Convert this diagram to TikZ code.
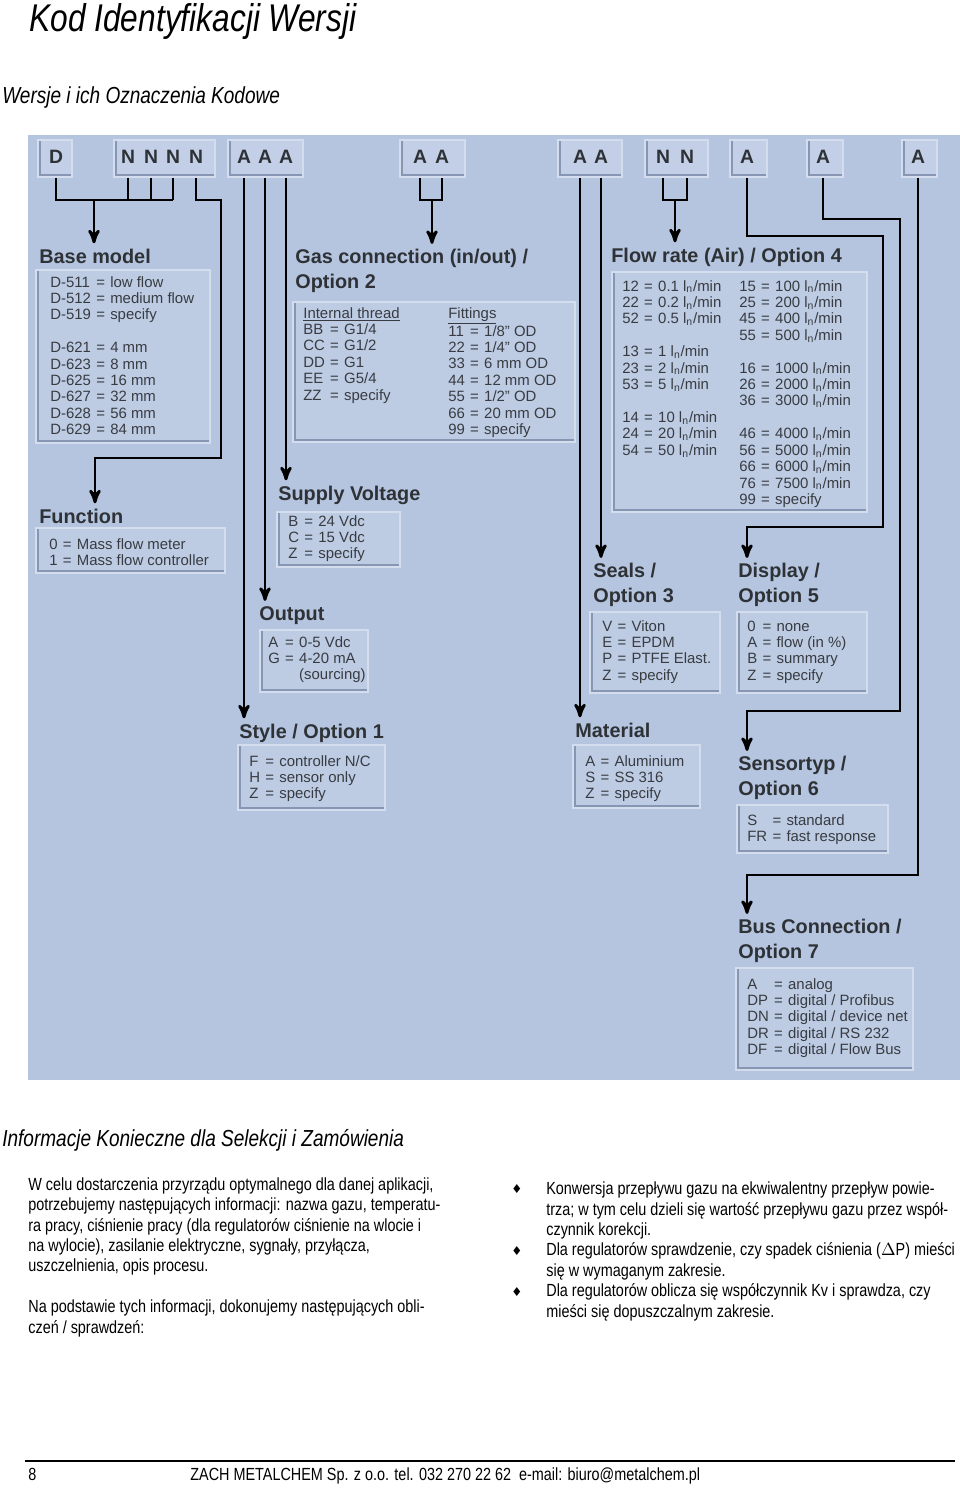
\documentclass[tikz,border=0pt]{standalone}
\usepackage{fontspec}
\usepackage{array}
\setmainfont{Liberation Sans}
\newfontfamily\narrowfont[FakeStretch=0.82]{Liberation Sans}
\newfontfamily\symbfont{DejaVu Sans}
\usetikzlibrary{arrows,fit}
\definecolor{panelblue}{HTML}{B5C5DF}
\definecolor{boxfill}{HTML}{BDCBE3}
\definecolor{hdrfill}{HTML}{C2CFE6}
\definecolor{edgedark}{HTML}{8797B3}
\definecolor{edgelight}{HTML}{D3DDEE}
\definecolor{headgray}{HTML}{2E3236}
\definecolor{itemgray}{HTML}{383C42}
\newcolumntype{E}{@{\hspace{3pt}}c@{\hspace{3pt}}}
\newcommand{\lnmin}{l\textsubscript{n}/min}
\tikzstyle{panel}=[fill=panelblue,inner sep=0pt]
\tikzstyle{hdrbox}=[fill=hdrfill,draw=edgelight,line width=0.6pt,inner sep=0pt,path picture={\draw[edgedark,line width=3pt] (path picture bounding box.north west) -- (path picture bounding box.south west) -- (path picture bounding box.south east);}]
\tikzstyle{optbox}=[fill=boxfill,draw=edgelight,line width=0.6pt,inner sep=0pt,path picture={\draw[edgedark,line width=3pt] (path picture bounding box.north west) -- (path picture bounding box.south west) -- (path picture bounding box.south east);}]
\tikzstyle{code}=[anchor=base,inner sep=0pt,text=headgray,font=\bfseries\fontsize{11}{11}\selectfont]
\tikzstyle{ttl}=[anchor=base west,inner sep=0pt,outer ysep=3pt,align=left,text=headgray,font=\bfseries\fontsize{11.3}{13.9}\selectfont]
\tikzstyle{items}=[anchor=base west,inner sep=0pt,text=itemgray,font=\fontsize{8.5}{9.35}\selectfont]
\tikzstyle{pagehead}=[anchor=base west,inner sep=0pt,font=\narrowfont\itshape\fontsize{13.2}{15}\selectfont]
\tikzstyle{body}=[anchor=base west,inner sep=0pt,align=left,font=\narrowfont\fontsize{10}{11.6}\selectfont]
\tikzstyle{wire}=[draw=black,line width=1.6pt]
\tikzstyle{arr}=[->,>=stealth',draw=black,line width=1.6pt]

\begin{document}
\begin{tikzpicture}[x=0.02cm,y=-0.02cm]
  \useasboundingbox (0,0) rectangle (960,1488);
  % page headings
  \node[pagehead,font=\narrowfont\itshape\fontsize{22}{24}\selectfont] (title) at (29,31) {Kod Identyfikacji Wersji};
  \node[pagehead] (versions) at (2,103) {Wersje i ich Oznaczenia Kodowe};

  % blue panel
  \node[panel,fit={(28,135) (960,1080)}] (panel) {};

  % code boxes along the top
  \node[hdrbox,fit={(38,140) (72,177)}] (hD) {};
  \node[hdrbox,fit={(114,140) (215,177)}] (hN) {};
  \node[hdrbox,fit={(228,140) (303,177)}] (hA) {};
  \node[hdrbox,fit={(400,140) (465,177)}] (hG) {};
  \node[hdrbox,fit={(558,140) (622,177)}] (hS) {};
  \node[hdrbox,fit={(645,140) (708,177)}] (hF) {};
  \node[hdrbox,fit={(730,140) (767,177)}] (hDisp) {};
  \node[hdrbox,fit={(807,140) (843,177)}] (hSens) {};
  \node[hdrbox,fit={(902,140) (937,177)}] (hBus) {};
  \node[code] (d1) at (56,163) {D};
  \node[code] (n1) at (128,163) {N};
  \node[code] (n2) at (151,163) {N};
  \node[code] (n3) at (173,163) {N};
  \node[code] (n4) at (196,163) {N};
  \node[code] (a1) at (244,163) {A};
  \node[code] (a2) at (265,163) {A};
  \node[code] (a3) at (286,163) {A};
  \node[code] (g1) at (420,163) {A};
  \node[code] (g2) at (442,163) {A};
  \node[code] (s1) at (580,163) {A};
  \node[code] (s2) at (601,163) {A};
  \node[code] (f1) at (663,163) {N};
  \node[code] (f2) at (687,163) {N};
  \node[code] (o4) at (747,163) {A};
  \node[code] (o6) at (823,163) {A};
  \node[code] (o7) at (918,163) {A};

  % base model
  \node[ttl] (base) at (39,263) {Base model};
  \node[optbox,fit={(36,270) (210,443)}] (basebox) {};
  \node[items] (basetxt) at (50,287) {\begin{tabular}[t]{@{}lEl@{}}
    D-511 & = & low flow\\ D-512 & = & medium flow\\ D-519 & = & specify\\ & & \\
    D-621 & = & 4 mm\\ D-623 & = & 8 mm\\ D-625 & = & 16 mm\\
    D-627 & = & 32 mm\\ D-628 & = & 56 mm\\ D-629 & = & 84 mm\end{tabular}};

  % function
  \node[ttl] (func) at (39,523) {Function};
  \node[optbox,fit={(36,528) (225,573)}] (funcbox) {};
  \node[items] (functxt) at (49,549) {\begin{tabular}[t]{@{}lEl@{}}
    0 & = & Mass flow meter\\ 1 & = & Mass flow controller\end{tabular}};

  % gas connection
  \node[ttl] (gas) at (295,288) {Gas connection (in/out) /\\Option 2};
  \node[optbox,fit={(293,302) (575,442)}] (gasbox) {};
  \node[items] (gastxt) at (303,318) {\begin{tabular}[t]{@{}lEl@{}}
    \multicolumn{3}{@{}l}{\underline{Internal thread}}\\
    BB & = & G1/4\\ CC & = & G1/2\\ DD & = & G1\\ EE & = & G5/4\\ ZZ & = & specify\end{tabular}};
  \node[items] (fittxt) at (448,318) {\begin{tabular}[t]{@{}lEl@{}}
    \multicolumn{3}{@{}l}{\underline{Fittings}}\\
    11 & = & 1/8" OD\\ 22 & = & 1/4" OD\\ 33 & = & 6 mm OD\\ 44 & = & 12 mm OD\\
    55 & = & 1/2" OD\\ 66 & = & 20 mm OD\\ 99 & = & specify\end{tabular}};

  % supply voltage
  \node[ttl] (supply) at (278,500) {Supply Voltage};
  \node[optbox,fit={(277,512) (400,567)}] (supplybox) {};
  \node[items] (supplytxt) at (288,526) {\begin{tabular}[t]{@{}lEl@{}}
    B & = & 24 Vdc\\ C & = & 15 Vdc\\ Z & = & specify\end{tabular}};

  % output
  \node[ttl] (output) at (259,620) {Output};
  \node[optbox,fit={(260,630) (368,692)}] (outputbox) {};
  \node[items] (outputtxt) at (268,647) {\begin{tabular}[t]{@{}lEl@{}}
    A & = & 0-5 Vdc\\ G & = & 4-20 mA\\ & & (sourcing)\end{tabular}};

  % style
  \node[ttl] (style) at (239,738) {Style / Option 1};
  \node[optbox,fit={(238,745) (385,810)}] (stylebox) {};
  \node[items] (styletxt) at (249,766) {\begin{tabular}[t]{@{}lEl@{}}
    F & = & controller N/C\\ H & = & sensor only\\ Z & = & specify\end{tabular}};

  % flow rate
  \node[ttl] (flow) at (611,262) {Flow rate (Air) / Option 4};
  \node[optbox,fit={(612,272) (867,512)}] (flowbox) {};
  \node[items] (flowtxt1) at (622,291) {\begin{tabular}[t]{@{}lEl@{}}
    12 & = & 0.1 \lnmin\\ 22 & = & 0.2 \lnmin\\ 52 & = & 0.5 \lnmin\\ & & \\
    13 & = & 1 \lnmin\\ 23 & = & 2 \lnmin\\ 53 & = & 5 \lnmin\\ & & \\
    14 & = & 10 \lnmin\\ 24 & = & 20 \lnmin\\ 54 & = & 50 \lnmin\end{tabular}};
  \node[items] (flowtxt2) at (739,291) {\begin{tabular}[t]{@{}lEl@{}}
    15 & = & 100 \lnmin\\ 25 & = & 200 \lnmin\\ 45 & = & 400 \lnmin\\ 55 & = & 500 \lnmin\\ & & \\
    16 & = & 1000 \lnmin\\ 26 & = & 2000 \lnmin\\ 36 & = & 3000 \lnmin\\ & & \\
    46 & = & 4000 \lnmin\\ 56 & = & 5000 \lnmin\\ 66 & = & 6000 \lnmin\\
    76 & = & 7500 \lnmin\\ 99 & = & specify\end{tabular}};

  % seals
  \node[ttl] (seals) at (593,602) {Seals /\\Option 3};
  \node[optbox,fit={(590,612) (720,693)}] (sealsbox) {};
  \node[items] (sealstxt) at (602,631) {\begin{tabular}[t]{@{}lEl@{}}
    V & = & Viton\\ E & = & EPDM\\ P & = & PTFE Elast.\\ Z & = & specify\end{tabular}};

  % display
  \node[ttl] (display) at (738,602) {Display /\\Option 5};
  \node[optbox,fit={(737,612) (867,693)}] (displaybox) {};
  \node[items] (displaytxt) at (747,631) {\begin{tabular}[t]{@{}lEl@{}}
    0 & = & none\\ A & = & flow (in \%)\\ B & = & summary\\ Z & = & specify\end{tabular}};

  % material
  \node[ttl] (material) at (575,737) {Material};
  \node[optbox,fit={(573,745) (700,808)}] (materialbox) {};
  \node[items] (materialtxt) at (585,766) {\begin{tabular}[t]{@{}lEl@{}}
    A & = & Aluminium\\ S & = & SS 316\\ Z & = & specify\end{tabular}};

  % sensor type
  \node[ttl] (sensor) at (738,795) {Sensortyp /\\Option 6};
  \node[optbox,fit={(737,805) (888,853)}] (sensorbox) {};
  \node[items] (sensortxt) at (747,825) {\begin{tabular}[t]{@{}lEl@{}}
    S & = & standard\\ FR & = & fast response\end{tabular}};

  % bus connection
  \node[ttl] (bus) at (738,958) {Bus Connection /\\Option 7};
  \node[optbox,fit={(736,968) (913,1070)}] (busbox) {};
  \node[items] (bustxt) at (747,989) {\begin{tabular}[t]{@{}lEl@{}}
    A & = & analog\\ DP & = & digital / Profibus\\ DN & = & digital / device net\\
    DR & = & digital / RS 232\\ DF & = & digital / Flow Bus\end{tabular}};

  % connectors
  \coordinate (rail) at (0,200);
  \coordinate (jbase) at (94,200);
  \coordinate (jgas) at (432,200);
  \coordinate (jflow) at (675,200);
  \coordinate (fr) at (221,200);
  \coordinate (fl) at (95,458);
  \coordinate (dr) at (883,236);
  \coordinate (dl) at (747,527);
  \coordinate (sr) at (900,219);
  \coordinate (sl) at (747,711);
  \coordinate (bl) at (747,875);
  \draw[wire] (d1 |- hD.south) -- (d1 |- rail) -- (n3 |- rail);
  \foreach \n in {n1,n2,n3}
    \draw[wire] (\n |- hN.south) -- (\n |- rail);
  \draw[arr] (jbase) -- (jbase |- base.north);
  \draw[arr] (n4 |- hN.south) -- (n4 |- rail) -- (fr) -- (fr |- fl) -- (fl) -- (fl |- func.north);
  \draw[arr] (a3 |- hA.south) -- (a3 |- supply.north);
  \draw[arr] (a2 |- hA.south) -- (a2 |- output.north);
  \draw[arr] (a1 |- hA.south) -- (a1 |- style.north);
  \draw[wire] (g1 |- hG.south) -- (g1 |- rail) -- (g2 |- rail) -- (g2 |- hG.south);
  \draw[arr] (jgas) -- (jgas |- gas.north);
  \draw[arr] (s2 |- hS.south) -- (s2 |- seals.north);
  \draw[arr] (s1 |- hS.south) -- (s1 |- material.north);
  \draw[wire] (f1 |- hF.south) -- (f1 |- rail) -- (f2 |- rail) -- (f2 |- hF.south);
  \draw[arr] (jflow) -- (jflow |- flow.north);
  \draw[arr] (o4 |- hDisp.south) -- (o4 |- dr) -- (dr) -- (dr |- dl) -- (dl) -- (dl |- display.north);
  \draw[arr] (o6 |- hSens.south) -- (o6 |- sr) -- (sr) -- (sr |- sl) -- (sl) -- (sl |- sensor.north);
  \draw[arr] (o7 |- hBus.south) -- (o7 |- bl) -- (bl) -- (bl |- bus.north);

  % ordering information
  \node[pagehead] (infohead) at (2,1146) {Informacje Konieczne dla Selekcji i Zamówienia};
  \node[body] (leftcol) at (28,1333) {W celu dostarczenia przyrządu optymalnego dla danej aplikacji,\\
    potrzebujemy następujących informacji: nazwa gazu, temperatu-\\
    ra pracy, ciśnienie pracy (dla regulatorów ciśnienie na wlocie i\\
    na wylocie), zasilanie elektryczne, sygnały, przyłącza,\\
    uszczelnienia, opis procesu.\\[11.6pt]
    Na podstawie tych informacji, dokonujemy następujących obli-\\
    czeń / sprawdzeń:};
  \node[body] (rightcol) at (546,1317) {Konwersja przepływu gazu na ekwiwalentny przepływ powie-\\
    trza; w tym celu dzieli się wartość przepływu gazu przez współ-\\
    czynnik korekcji.\\
    Dla regulatorów sprawdzenie, czy spadek ciśnienia ($\Delta$P) mieści\\
    się w wymaganym zakresie.\\
    Dla regulatorów oblicza się współczynnik Kv i sprawdza, czy\\
    mieści się dopuszczalnym zakresie.};
  \foreach \y/\k in {1193/1,1255/2,1296/3}
    \node[anchor=base,inner sep=0pt,font=\symbfont\fontsize{7}{7}\selectfont] (bullet\k) at (517,\y) {♦};

  % footer
  \draw[line width=0.6pt] (25,1461) -- (955,1461);
  \node[body] (pageno) at (28,1480) {8};
  \node[body] (footer) at (190,1480) {ZACH METALCHEM Sp. z o.o. tel. 032 270 22 62\ \ e-mail: biuro@metalchem.pl};
\end{tikzpicture}
\end{document}
